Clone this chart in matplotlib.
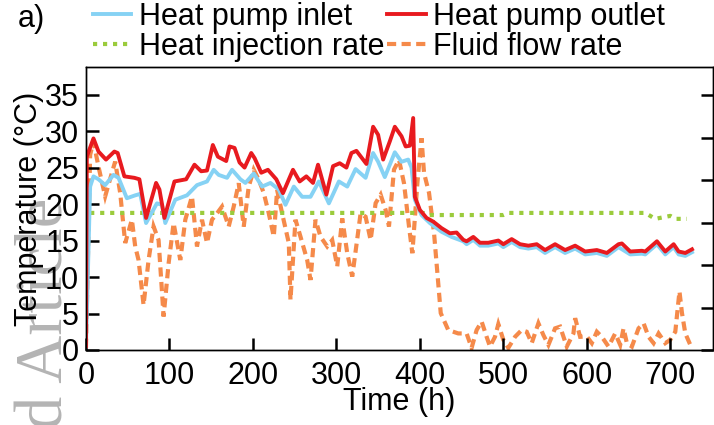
import matplotlib
matplotlib.use("Agg")
import matplotlib.pyplot as plt

plt.rcParams['font.family'] = ['Liberation Sans', 'DejaVu Sans']

# heat pump outlet temperature (degC)
outlet_t = [0, 1, 9, 15, 24, 34, 38, 46, 58, 64, 72, 84, 88, 94, 106, 120, 130, 138, 145,
            152, 158, 168, 172, 178, 184, 190, 198, 202, 210, 218, 228, 236, 248, 256, 264,
            272, 278, 288, 296, 304, 312, 318, 324, 336, 344, 350, 356, 364, 370, 378, 383,
            388, 392, 394, 400, 408, 416, 426, 436, 444, 452, 456, 464, 472, 482, 494, 500,
            510, 520, 530, 540, 550, 562, 574, 586, 598, 612, 624, 638, 642, 652, 666, 670,
            684, 694, 704, 710, 718, 726]
outlet_T = [0.5, 26.5, 29.0, 27.2, 26.1, 27.2, 27.0, 23.8, 23.6, 23.4, 18.1, 22.9, 22.0,
            18.1, 23.1, 23.4, 25.4, 24.5, 24.6, 28.1, 26.5, 25.9, 27.9, 27.7, 25.7, 25.0,
            27.0, 26.3, 24.3, 24.7, 23.4, 21.5, 24.7, 23.1, 23.8, 22.9, 25.4, 21.3, 25.2,
            25.6, 25.0, 27.0, 27.3, 25.5, 30.6, 29.5, 26.1, 28.6, 30.6, 29.3, 27.9, 28.0,
            31.8, 21.0, 19.2, 18.1, 17.6, 16.7, 16.0, 16.1, 15.1, 14.9, 15.5, 14.7, 14.7,
            15.0, 14.5, 15.2, 14.5, 14.3, 14.5, 13.7, 14.5, 13.7, 14.3, 13.5, 13.7, 13.3,
            14.5, 14.6, 13.5, 13.6, 13.5, 14.9, 13.5, 14.5, 13.5, 13.3, 13.8]

# heat pump inlet temperature (degC)
inlet_t = [0, 5, 9, 15, 23, 33, 39, 49, 59, 65, 72, 85, 91, 95, 107, 121, 133, 145, 153,
           159, 169, 175, 185, 191, 201, 211, 221, 231, 239, 249, 259, 269, 279, 291, 303,
           313, 323, 335, 344, 350, 358, 370, 378, 386, 390, 394, 402, 412, 426, 438, 452,
           456, 464, 472, 482, 494, 500, 510, 520, 530, 540, 550, 562, 574, 586, 598, 612,
           624, 638, 652, 666, 670, 684, 694, 704, 710, 718, 726]
inlet_T = [0.5, 22.4, 23.8, 23.4, 22.6, 24.0, 23.6, 20.8, 21.2, 21.4, 17.4, 20.1, 19.9,
           17.4, 20.6, 21.2, 22.6, 23.1, 24.7, 24.0, 23.6, 24.7, 23.4, 22.9, 24.2, 22.4,
           22.9, 22.0, 19.9, 22.4, 21.0, 21.0, 23.1, 20.1, 23.1, 22.4, 24.8, 23.6, 27.0,
           25.8, 23.7, 27.1, 25.8, 26.1, 25.0, 20.6, 18.5, 17.4, 16.2, 15.5, 14.9, 14.5,
           15.1, 14.3, 14.3, 14.6, 14.1, 14.8, 14.1, 13.9, 14.1, 13.3, 14.1, 13.3, 13.9,
           13.1, 13.3, 12.9, 14.1, 13.1, 13.2, 13.1, 14.5, 13.1, 14.1, 13.1, 12.9, 13.4]

# fluid flow rate (secondary axis)
flow_t = [0, 5, 9, 15, 23, 31, 35, 41, 47, 55, 59, 63, 69, 75, 81, 87, 93, 99, 105, 113,
          119, 127, 133, 139, 145, 151, 157, 163, 171, 177, 183, 189, 195, 201, 207, 213,
          219, 225, 229, 235, 243, 245, 251, 257, 265, 269, 275, 281, 289, 295, 301, 307,
          313, 319, 325, 329, 335, 341, 347, 353, 359, 363, 369, 375, 381, 387, 391, 397,
          402, 405, 411, 417, 421, 425, 434, 446, 456, 462, 468, 474, 480, 484, 490, 494,
          500, 506, 514, 522, 528, 534, 542, 548, 554, 562, 568, 576, 584, 586, 592, 600,
          606, 612, 618, 626, 634, 640, 644, 648, 654, 662, 668, 674, 680, 686, 694, 700,
          706, 711, 714, 718, 724]
flow_q = [0.05, 4.6, 4.91, 4.32, 3.62, 4.17, 4.44, 3.70, 2.52, 3.07, 2.44, 2.12, 1.06,
          2.12, 2.91, 2.59, 0.79, 2.04, 2.99, 2.12, 3.07, 3.62, 2.44, 3.07, 2.52, 3.07,
          3.22, 3.38, 2.91, 3.38, 3.93, 2.91, 3.85, 4.25, 4.01, 3.70, 3.22, 2.67, 3.77,
          3.22, 2.52, 1.18, 3.07, 2.67, 2.12, 1.65, 3.07, 2.67, 2.44, 2.59, 1.97, 3.10,
          2.28, 1.73, 2.62, 3.22, 3.14, 2.59, 3.46, 3.66, 3.30, 2.91, 4.25, 4.48, 3.93,
          2.91, 2.28, 3.93, 4.99, 4.17, 3.70, 2.75, 1.81, 0.87, 0.47, 0.39, 0.39, 0.05,
          0.47, 0.67, 0.31, 0.08, 0.31, 0.61, 0.24, 0.05, 0.31, 0.47, 0.43, 0.16, 0.63,
          0.35, 0.12, 0.51, 0.55, 0.08, 0.39, 0.75, 0.31, 0.32, 0.16, 0.43, 0.31, 0.08,
          0.39, 0.12, 0.51, 0.16, 0.08, 0.51, 0.63, 0.31, 0.16, 0.39, 0.16, 0.24, 0.43,
          1.38, 0.87, 0.39, 0.12]

# heat injection rate (secondary axis)
inj_t = [5, 404, 410, 500, 506, 670, 682, 700, 706, 720]
inj_q = [3.23, 3.23, 3.18, 3.18, 3.23, 3.23, 3.09, 3.16, 3.09, 3.09]

c_in = '#86d2f4'
c_out = '#e81a1f'
c_inj = '#9bcb3c'
c_flow = '#f58a4a'

fig = plt.figure(figsize=(7.14, 4.25), dpi=100)

# faint journal watermark behind everything
fig.text(0.064, 0.534, 'Accepted Article', rotation=90, ha='center', va='top',
         fontsize=48, family='Liberation Serif', color='#b4b4b4', zorder=0)

ax = fig.add_axes([0.1204, 0.1765, 0.878, 0.666])
ax2 = ax.twinx()

l_flow, = ax2.plot(flow_t, flow_q, color=c_flow, lw=3, dashes=(2.2, 1.3),
                   dash_joinstyle='miter', label='Fluid flow rate')
l_inj, = ax2.plot(inj_t, inj_q, color=c_inj, lw=3, dashes=(1, 1.4),
                  dash_capstyle='butt', label='Heat injection rate')
l_in, = ax.plot(inlet_t, inlet_T, color=c_in, lw=2.8, label='Heat pump inlet')
l_out, = ax.plot(outlet_t, outlet_T, color=c_out, lw=2.8, label='Heat pump outlet')

ax.set_zorder(ax2.get_zorder() + 1)
ax.patch.set_visible(False)

ax.set_xlim(0, 751)
ax.set_ylim(0, 38.8)
ax2.set_ylim(0, 6.67)
ax.set_xticks(range(0, 701, 100))
ax.set_yticks(range(0, 36, 5))
ax2.set_yticks(range(0, 7))
ax2.set_yticklabels([])

ax.tick_params(axis='both', direction='in', length=9, width=1.8, labelsize=22)
ax.tick_params(axis='x', pad=8)
ax.tick_params(axis='y', pad=5)
ax2.tick_params(axis='y', direction='in', length=9, width=1.8)
for a in (ax, ax2):
    for s in a.spines.values():
        s.set_linewidth(1.0)

ax.set_xlabel('Time (h)', fontsize=22, labelpad=-3)
ax.set_ylabel('Temperature (°C)', fontsize=22, labelpad=1)

fig.legend(handles=[l_in, l_inj, l_out, l_flow], ncol=2, loc='upper left',
           bbox_to_anchor=(0.128, 1.0), frameon=False, fontsize=22,
           handlelength=1.25, handletextpad=0.25, columnspacing=0.1,
           labelspacing=0.0, borderaxespad=0, borderpad=0.05)

fig.text(0.025, 0.955, 'a)', fontsize=22, va='center')

fig.savefig('out.png', dpi=100)
